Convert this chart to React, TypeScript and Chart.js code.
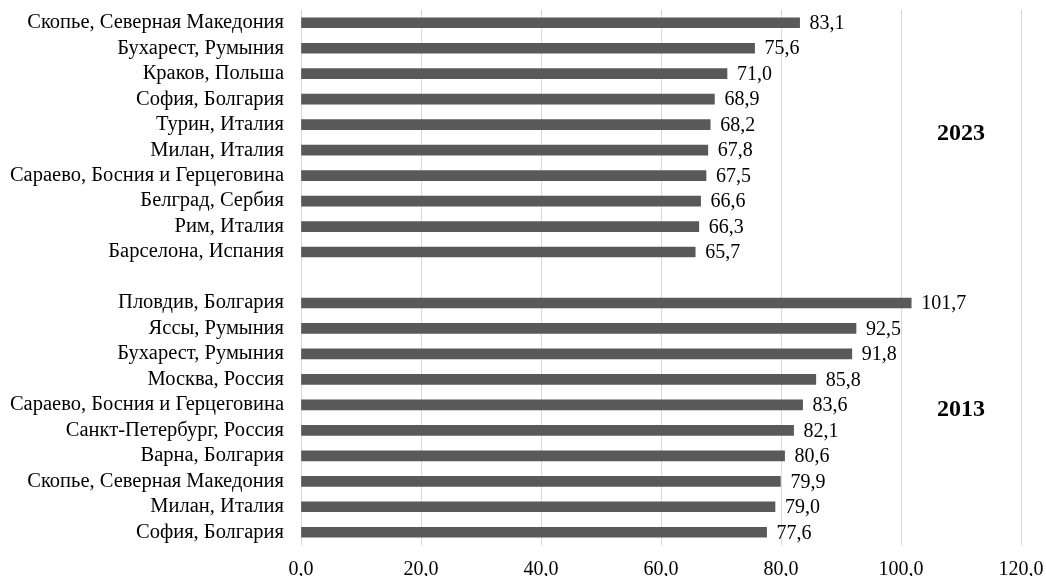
import React, { useEffect, useRef } from "react";
import { Chart, registerables } from "chart.js";

Chart.register(...registerables);

// City labels, top to bottom; the empty entry separates the two year groups
const cities2023 = [
  "Скопье, Северная Македония",
  "Бухарест, Румыния",
  "Краков, Польша",
  "София, Болгария",
  "Турин, Италия",
  "Милан, Италия",
  "Сараево, Босния и Герцеговина",
  "Белград, Сербия",
  "Рим, Италия",
  "Барселона, Испания",
];
const values2023 = [83.1, 75.6, 71.0, 68.9, 68.2, 67.8, 67.5, 66.6, 66.3, 65.7];

const cities2013 = [
  "Пловдив, Болгария",
  "Яссы, Румыния",
  "Бухарест, Румыния",
  "Москва, Россия",
  "Сараево, Босния и Герцеговина",
  "Санкт-Петербург, Россия",
  "Варна, Болгария",
  "Скопье, Северная Македония",
  "Милан, Италия",
  "София, Болгария",
];
const values2013 = [101.7, 92.5, 91.8, 85.8, 83.6, 82.1, 80.6, 79.9, 79.0, 77.6];

const xTickLabels = ["0,0", "20,0", "40,0", "60,0", "80,0", "100,0", "120,0"];
const groupTitles = ["2023", "2013"];

const FONT = "'Liberation Serif', 'Times New Roman', serif";
const fmt = (v: number) => v.toFixed(1).split(".").join(",");

const labels = [...cities2023, "", ...cities2013];
const data: (number | null)[] = [...values2023, null, ...values2013];

const valueLabels = {
  id: "valueLabels",
  afterDatasetsDraw(chart: any) {
    const ctx = chart.ctx;
    const meta = chart.getDatasetMeta(0);
    ctx.save();
    ctx.font = `20px ${FONT}`;
    ctx.fillStyle = "#000";
    ctx.textAlign = "left";
    ctx.textBaseline = "middle";
    meta.data.forEach((bar: any, i: number) => {
      const v = data[i];
      if (v == null) return;
      ctx.fillText(fmt(v), bar.x + 10, bar.y + 1);
    });
    ctx.restore();
  },
};

const groupLabels = {
  id: "groupLabels",
  afterDraw(chart: any) {
    const ctx = chart.ctx;
    const x = chart.scales.x;
    const y = chart.scales.y;
    ctx.save();
    ctx.font = `bold 24px ${FONT}`;
    ctx.fillStyle = "#000";
    ctx.textAlign = "center";
    ctx.textBaseline = "middle";
    const px = x.getPixelForValue(110);
    ctx.fillText(groupTitles[0], px, (y.getPixelForValue(4) + y.getPixelForValue(5)) / 2 - 4);
    ctx.fillText(groupTitles[1], px, y.getPixelForValue(15) + 5);
    ctx.restore();
  },
};

export default function App() {
  const ref = useRef<HTMLCanvasElement>(null);

  useEffect(() => {
    if (!ref.current) return;
    const chart = new Chart(ref.current, {
      type: "bar",
      data: {
        labels,
        datasets: [
          {
            data,
            backgroundColor: "#595959",
            borderWidth: 0,
            barThickness: 10,
          },
        ],
      },
      options: {
        indexAxis: "y",
        responsive: false,
        animation: false,
        layout: { padding: { left: 0, right: 25, top: 10, bottom: 0 } },
        plugins: { legend: { display: false }, tooltip: { enabled: false } },
        scales: {
          x: {
            min: 0,
            max: 120,
            ticks: {
              stepSize: 20,
              padding: 13,
              color: "#000",
              font: { family: FONT, size: 20 },
              callback: (_v: any, i: number) => xTickLabels[i],
            },
            afterFit: (s: any) => {
              s.height = 31;
              s.paddingLeft = 0;
              s.paddingRight = 0;
            },
            grid: { color: "#d9d9d9", lineWidth: 1, drawTicks: false },
            border: { display: false },
          },
          y: {
            afterFit: (s: any) => {
              s.width = 301;
              s.paddingTop = 0;
              s.paddingBottom = 0;
            },
            grid: { display: false, drawTicks: false },
            border: { display: false },
            ticks: {
              padding: 17,
              autoSkip: false,
              color: "#000",
              font: { family: FONT, size: 20.5 },
            },
          },
        },
      },
      plugins: [valueLabels, groupLabels],
    });
    return () => chart.destroy();
  }, []);

  return (
    <div style={{ position: "fixed", left: 0, top: 0, width: 1046, height: 576, background: "#fff" }}>
      <canvas ref={ref} width={1046} height={576} style={{ display: "block" }} />
    </div>
  );
}
